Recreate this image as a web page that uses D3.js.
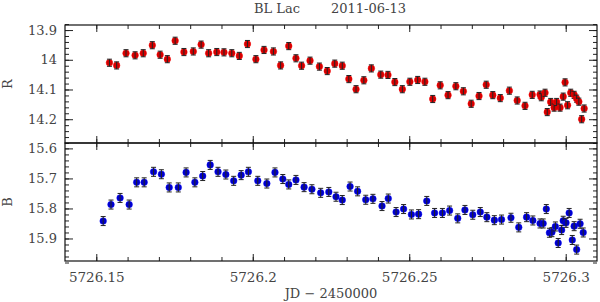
<!DOCTYPE html>
<html lang="en">
<head>
    <meta charset="UTF-8">
    <title>BL Lac 2011-06-13</title>
    <script src="https://d3js.org/d3.v7.min.js"></script>
    <style>
        body { margin: 0; background: #fff; }
        text { font-family: 'DejaVu Serif', serif; fill: #444; }
        .tick line { stroke: #222; }
        .frame { fill: none; stroke: #111; stroke-width: 1.2px; }
        .err { stroke: #222; stroke-width: 1px; }
    </style>
</head>
<body>
<div id="chart"></div>
<script>
// JD - 2450000 for the R band points
const rJD = [5726.1542, 5726.1565, 5726.1595, 5726.1624, 5726.1650, 5726.1679, 5726.1704, 5726.1727,
    5726.1752, 5726.1780, 5726.1810, 5726.1835, 5726.1859, 5726.1885, 5726.1908, 5726.1933, 5726.1957,
    5726.1983, 5726.2010, 5726.2036, 5726.2066, 5726.2089, 5726.2115, 5726.2138, 5726.2156, 5726.2183,
    5726.2213, 5726.2238, 5726.2262, 5726.2286, 5726.2307, 5726.2330, 5726.2355, 5726.2379, 5726.2409,
    5726.2432, 5726.2454, 5726.2478, 5726.2502, 5726.2527, 5726.2550, 5726.2575, 5726.2599, 5726.2624,
    5726.2649, 5726.2673, 5726.2698, 5726.2723, 5726.2746, 5726.2767, 5726.2791, 5726.2820, 5726.2845,
    5726.2870, 5726.2893, 5726.2918, 5726.2922, 5726.2934, 5726.2941, 5726.2952, 5726.2963, 5726.2971,
    5726.2982, 5726.2992, 5726.2998, 5726.3006, 5726.3016, 5726.3027, 5726.3035, 5726.3042, 5726.3051,
    5726.3059];
const rMag = [14.010, 14.019, 13.978, 13.985, 13.978, 13.951, 13.983, 13.998,
    13.936, 13.974, 13.972, 13.949, 13.978, 13.974, 13.975, 13.978, 13.987,
    13.947, 13.998, 13.967, 13.972, 14.019, 13.954, 13.995, 14.020, 14.003,
    14.023, 14.038, 14.013, 14.020, 14.065, 14.099, 14.069, 14.029, 14.050,
    14.051, 14.075, 14.099, 14.074, 14.068, 14.074, 14.132, 14.086, 14.119,
    14.089, 14.106, 14.148, 14.122, 14.084, 14.119, 14.129, 14.104, 14.137,
    14.155, 14.118, 14.117, 14.126, 14.111, 14.176, 14.142, 14.161, 14.142,
    14.161, 14.124, 14.076, 14.153, 14.111, 14.118, 14.131, 14.141, 14.200,
    14.164];
const rErr = 0.012;

// JD - 2450000 for the B band points
const bJD = [5726.1522, 5726.1547, 5726.1576, 5726.1605, 5726.1629, 5726.1653, 5726.1683, 5726.1708,
    5726.1733, 5726.1762, 5726.1787, 5726.1815, 5726.1840, 5726.1864, 5726.1889, 5726.1914, 5726.1939,
    5726.1963, 5726.1986, 5726.2016, 5726.2045, 5726.2071, 5726.2096, 5726.2115, 5726.2138, 5726.2164,
    5726.2189, 5726.2217, 5726.2243, 5726.2266, 5726.2286, 5726.2311, 5726.2335, 5726.2361, 5726.2384,
    5726.2413, 5726.2433, 5726.2458, 5726.2482, 5726.2507, 5726.2530, 5726.2556, 5726.2581, 5726.2606,
    5726.2629, 5726.2655, 5726.2678, 5726.2703, 5726.2727, 5726.2748, 5726.2772, 5726.2795, 5726.2825,
    5726.2850, 5726.2875, 5726.2895, 5726.2918, 5726.2928, 5726.2938, 5726.2948, 5726.2956, 5726.2967,
    5726.2976, 5726.2987, 5726.2992, 5726.3001, 5726.3011, 5726.3021, 5726.3027, 5726.3035, 5726.3046,
    5726.3056];
const bMag = [15.842, 15.787, 15.765, 15.787, 15.713, 15.713, 15.678, 15.686,
    15.730, 15.730, 15.680, 15.713, 15.692, 15.655, 15.678, 15.687, 15.708,
    15.689, 15.678, 15.708, 15.717, 15.680, 15.702, 15.720, 15.705, 15.729,
    15.736, 15.748, 15.745, 15.761, 15.772, 15.727, 15.743, 15.771, 15.768,
    15.792, 15.767, 15.812, 15.802, 15.820, 15.819, 15.775, 15.815, 15.815,
    15.807, 15.833, 15.805, 15.821, 15.812, 15.829, 15.839, 15.837, 15.831,
    15.863, 15.829, 15.840, 15.850, 15.850, 15.802, 15.881, 15.879, 15.860,
    15.915, 15.872, 15.841, 15.848, 15.815, 15.905, 15.859, 15.937, 15.851,
    15.880];
const bErr = 0.015;

// tick values and labels
const xMajor = [5726.15, 5726.2, 5726.25, 5726.3];
const xLabels = ["5726.15", "5726.2", "5726.25", "5726.3"];
const rMajor = [13.9, 14.0, 14.1, 14.2];
const rLabels = ["13.9", "14", "14.1", "14.2"];
const bMajor = [15.6, 15.7, 15.8, 15.9];
const bLabels = ["15.6", "15.7", "15.8", "15.9"];

const W = 600, H = 302;
const left = 65, right = 597;
const panels = [
    {name: "R", jd: rJD, mag: rMag, err: rErr, color: "#d40000", top: 25, bottom: 143,
     domain: [13.883, 14.28], major: rMajor, labels: rLabels, minorRange: [1388, 1428]},
    {name: "B", jd: bJD, mag: bMag, err: bErr, color: "#0000c8", top: 143, bottom: 261,
     domain: [15.582, 15.975], major: bMajor, labels: bLabels, minorRange: [1560, 1598]}
];

const svg = d3.select("#chart").append("svg")
    .attr("width", W).attr("height", H);

const x = d3.scaleLinear().domain([5726.14, 5726.31]).range([left, right]);
const xMinor = d3.range(15, 31).map(i => 5726 + i / 100);

function strip(g) {
    g.select(".domain").remove();
    return g;
}

panels.forEach((p, k) => {
    const y = d3.scaleLinear().domain(p.domain).range([p.top, p.bottom]);
    const h = p.bottom - p.top;
    const g = svg.append("g");

    const yMinor = d3.range(p.minorRange[0], p.minorRange[1] + 1)
        .filter(i => i % 2 === 0).map(i => i / 100);

    // y ticks, left and right
    g.append("g").attr("transform", `translate(${left},0)`)
        .call(d3.axisLeft(y).tickValues(yMinor).tickSize(-4).tickFormat("")).call(strip);
    g.append("g").attr("transform", `translate(${right},0)`)
        .call(d3.axisRight(y).tickValues(yMinor).tickSize(-4).tickFormat("")).call(strip);
    g.append("g").attr("transform", `translate(${left},0)`)
        .call(d3.axisLeft(y).tickValues(p.major).tickSize(-8)
            .tickFormat((d, i) => p.labels[i]).tickPadding(8))
        .call(strip)
        .selectAll("text").style("font-size", "13px").attr("fill", "#444");
    g.append("g").attr("transform", `translate(${right},0)`)
        .call(d3.axisRight(y).tickValues(p.major).tickSize(-8).tickFormat("")).call(strip);

    // x ticks, top and bottom of each panel
    g.append("g").attr("transform", `translate(0,${p.top})`)
        .call(d3.axisTop(x).tickValues(xMinor).tickSize(-4).tickFormat("")).call(strip);
    g.append("g").attr("transform", `translate(0,${p.bottom})`)
        .call(d3.axisBottom(x).tickValues(xMinor).tickSize(-4).tickFormat("")).call(strip);
    g.append("g").attr("transform", `translate(0,${p.top})`)
        .call(d3.axisTop(x).tickValues(xMajor).tickSize(-7).tickFormat("")).call(strip);
    const xb = g.append("g").attr("transform", `translate(0,${p.bottom})`)
        .call(d3.axisBottom(x).tickValues(xMajor).tickSize(-7)
            .tickFormat((d, i) => k === 1 ? xLabels[i] : "").tickPadding(11))
        .call(strip);
    xb.selectAll("text").style("font-size", "13.5px").attr("fill", "#444");

    g.append("rect").attr("class", "frame")
        .attr("x", left).attr("y", p.top)
        .attr("width", right - left).attr("height", h);

    // axis name
    g.append("text")
        .attr("transform", `translate(12,${(p.top + p.bottom) / 2}) rotate(-90)`)
        .attr("text-anchor", "middle")
        .style("font-size", "13px")
        .text(p.name);

    // points with error bars
    const pts = p.jd.map((d, i) => ({jd: d, mag: p.mag[i]}));
    const pt = g.append("g").selectAll("g").data(pts).join("g");
    pt.append("circle")
        .attr("cx", d => x(d.jd)).attr("cy", d => y(d.mag))
        .attr("r", 3.3)
        .attr("fill", p.color)
        .attr("stroke", d3.color(p.color).brighter(0.8))
        .attr("stroke-opacity", 0.5)
        .attr("stroke-width", 1);
    pt.append("path").attr("class", "err")
        .attr("d", d => {
            const cx = x(d.jd), y0 = y(d.mag - p.err), y1 = y(d.mag + p.err);
            return `M${cx},${y0}V${y1}M${cx - 2.5},${y0}H${cx + 2.5}M${cx - 2.5},${y1}H${cx + 2.5}`;
        });
});

// title and x axis label
svg.append("text").attr("x", 254).attr("y", 13)
    .style("font-size", "13px").text("BL Lac");
svg.append("text").attr("x", 331).attr("y", 13)
    .style("font-size", "13px").text("2011-06-13");
svg.append("text").attr("x", 331).attr("y", 298)
    .attr("text-anchor", "middle")
    .style("font-size", "13px")
    .text("JD \u2212 2450000");
</script>
</body>
</html>
